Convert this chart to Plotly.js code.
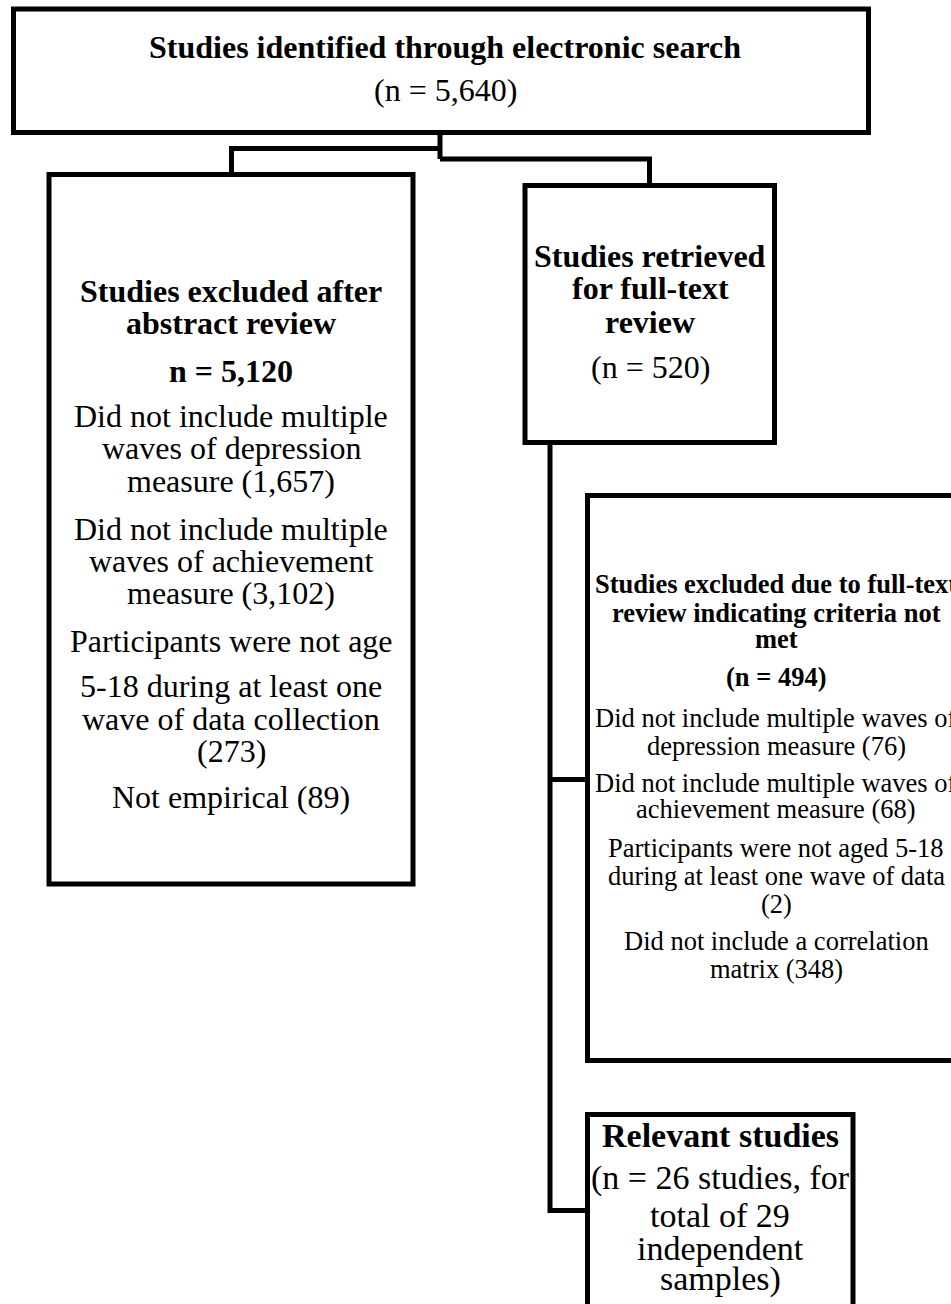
<!DOCTYPE html>
<html>
<head>
<meta charset="utf-8">
<script src="https://cdn.plot.ly/plotly-3.0.1.min.js"></script>
<style>html,body{margin:0;padding:0;background:#fff;}#chart{width:951px;height:1304px;}</style>
</head>
<body>
<div id="chart"></div>
<script>
// ---- content (text of each box, one entry per printed line) ----
const searchLines = ["<b>Studies identified through electronic search</b>", "(n = 5,640)"];
const abstractLines = [
  "<b>Studies excluded after</b>", "<b>abstract review</b>", "<b>n = 5,120</b>",
  "Did not include multiple", "waves of depression", "measure (1,657)",
  "Did not include multiple", "waves of achievement", "measure (3,102)",
  "Participants were not age",
  "5-18 during at least one", "wave of data collection", "(273)",
  "Not empirical (89)"
];
const retrievedLines = ["<b>Studies retrieved</b>", "<b>for full-text</b>", "<b>review</b>", "(n = 520)"];
const fulltextLines = [
  "<b>Studies excluded due to full-text</b>", "<b>review indicating criteria not</b>", "<b>met</b>",
  "<b>(n = 494)</b>",
  "Did not include multiple waves of", "depression measure (76)",
  "Did not include multiple waves of", "achievement measure (68)",
  "Participants were not aged 5-18", "during at least one wave of data", "(2)",
  "Did not include a correlation", "matrix (348)"
];
const relevantLines = ["<b>Relevant studies</b>", "(n = 26 studies, for", "total of 29", "independent", "samples)"];

// ---- layout geometry (pixel coordinates, y downward) ----
const geom = {
  search:    {box: [13.5, 9, 868.5, 132.5],   cx: 445, fs: 32,   base: [58, 101]},
  abstract:  {box: [49, 174.5, 413, 884],     cx: 231, fs: 32,   base: [302, 334, 382, 427, 459, 492, 540, 572, 604, 652, 697, 730, 762, 808]},
  retrieved: {box: [525, 185.5, 774.5, 442.5], cx: 650, fs: 32,  base: [267, 299, 333, 378]},
  fulltext:  {box: [587.5, 495.5, 965, 1060.5], cx: 776, fs: 26.5, base: [593, 622, 648, 686, 727, 755, 792, 818, 857, 885, 913, 950, 978]},
  relevant:  {box: [587.5, 1114.5, 853, 1330], cx: 720, fs: 34,  base: [1147, 1190, 1227, 1260, 1291]}
};
const connectors = [
  "M440,132.5 L440,159",
  "M440,148.5 L231.5,148.5 L231.5,174.5",
  "M440,159 L649.5,159 L649.5,185.5",
  "M550,442.5 L550,1210.5 L587.5,1210.5",
  "M550,779.5 L587.5,779.5"
];

const FONT = "Liberation Serif, Times New Roman, Times, serif";
const LW = 5;

const shapes = [];
const annotations = [];
function addBox(g, lines) {
  shapes.push({type: 'rect', xref: 'x', yref: 'y', x0: g.box[0], y0: g.box[1], x1: g.box[2], y1: g.box[3],
    line: {color: '#000', width: LW}, fillcolor: 'rgba(0,0,0,0)', layer: 'above'});
  lines.forEach((t, i) => {
    annotations.push({xref: 'x', yref: 'y', x: g.cx, y: g.base[i] - 0.34 * g.fs, text: t, showarrow: false,
      xanchor: 'center', yanchor: 'middle', align: 'center',
      font: {family: FONT, size: g.fs, color: '#000'}});
  });
}
connectors.forEach(p => shapes.push({type: 'path', xref: 'x', yref: 'y', path: p, line: {color: '#000', width: LW}}));
addBox(geom.search, searchLines);
addBox(geom.abstract, abstractLines);
addBox(geom.retrieved, retrievedLines);
addBox(geom.fulltext, fulltextLines);
addBox(geom.relevant, relevantLines);

const layout = {
  width: 951, height: 1304,
  margin: {l: 0, r: 0, t: 0, b: 0, pad: 0},
  paper_bgcolor: '#fff', plot_bgcolor: '#fff',
  xaxis: {range: [0, 951], visible: false, fixedrange: true},
  yaxis: {range: [1304, 0], visible: false, fixedrange: true},
  showlegend: false,
  shapes: shapes,
  annotations: annotations
};
Plotly.newPlot('chart', [{x: [], y: [], type: 'scatter', hoverinfo: 'skip'}], layout, {displayModeBar: false, staticPlot: true});
</script>
</body>
</html>
